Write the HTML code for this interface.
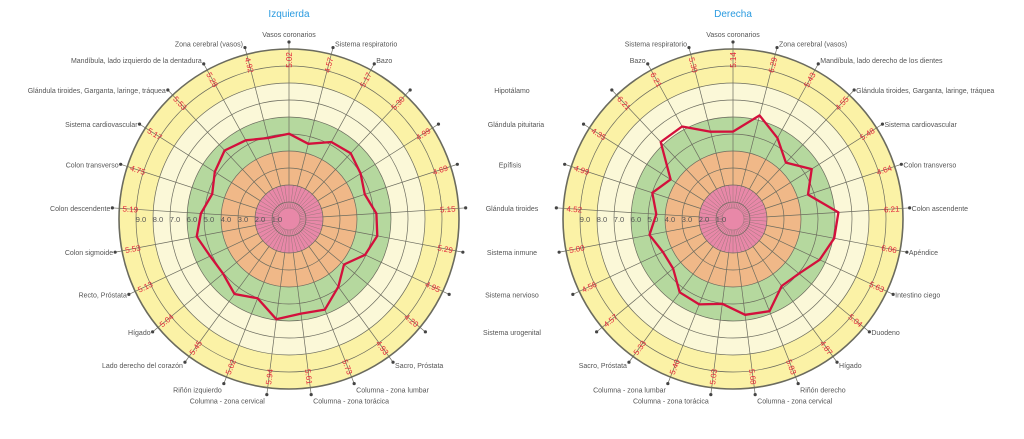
<!DOCTYPE html>
<html><head><meta charset="utf-8"><style>
html,body{margin:0;padding:0;background:#fff;width:1024px;height:439px;overflow:hidden}
svg{display:block}
</style></head><body>
<svg id="s" width="1024" height="439" xmlns="http://www.w3.org/2000/svg" font-family="Liberation Sans, sans-serif">
<text x="289" y="17" text-anchor="middle" font-size="10" fill="#2b9be0">Izquierda</text>
<text x="733" y="17" text-anchor="middle" font-size="10" fill="#2b9be0">Derecha</text>
</svg>
<script>
var S=document.getElementById('s'),NS='http://www.w3.org/2000/svg';
function el(t,a,txt){var e=document.createElementNS(NS,t);for(var k in a)e.setAttribute(k,a[k]);if(txt!=null)e.textContent=txt;S.appendChild(e);return e;}
var U=17;
function chart(cx,cy,vals,labels,special){
  var cols=['#fbf2a6','#fbf8d8','#b5d89e','#f0b888','#e888a8'];
  var rs=[170,136,102,68,34];
  for(var i=0;i<5;i++)el('circle',{cx:cx,cy:cy,r:rs[i],fill:cols[i]});
  var n=25,i,a,r;
  for(i=1;i<=10;i++)el('circle',{cx:cx,cy:cy,r:i*U,fill:'none',stroke:'#6b6b5e','stroke-width':i==10?1.6:0.7});
  el('circle',{cx:cx,cy:cy,r:11,fill:'none',stroke:'#6b6b5e','stroke-width':0.5,'stroke-opacity':0.6});
  for(i=0;i<n;i++){a=i*2*Math.PI/n;
    el('line',{x1:cx+34*Math.sin(a),y1:cy-34*Math.cos(a),x2:cx+178*Math.sin(a),y2:cy-178*Math.cos(a),stroke:'#6b6b5e','stroke-width':0.7});
    el('line',{x1:cx+11*Math.sin(a),y1:cy-11*Math.cos(a),x2:cx+34*Math.sin(a),y2:cy-34*Math.cos(a),stroke:'#6b6b5e','stroke-width':0.5,'stroke-opacity':0.6});
    var b=a+Math.PI/n;
    el('line',{x1:cx+11*Math.sin(b),y1:cy-11*Math.cos(b),x2:cx+34*Math.sin(b),y2:cy-34*Math.cos(b),stroke:'#6b6b5e','stroke-width':0.5,'stroke-opacity':0.6});
  }
  for(i=1;i<=9;i++)el('text',{x:cx-(i*U-5),y:cy+3,'text-anchor':'middle','font-size':7.5,fill:'#555'},i+'.0');
  var pts=[];
  for(i=0;i<n;i++){a=i*2*Math.PI/n;r=vals[i]*U;pts.push((cx+r*Math.sin(a)).toFixed(1)+','+(cy-r*Math.cos(a)).toFixed(1));}
  el('polygon',{points:pts.join(' '),fill:'none',stroke:'#d3103c','stroke-width':2.3,'stroke-linejoin':'round'});
  for(i=0;i<n;i++){var d=i*360/n;a=d*Math.PI/180;
    var x=cx+159*Math.sin(a),y=cy-159*Math.cos(a);
    var rot=(d<180)?d-90:d+90;
    el('text',{x:x,y:y+3,'text-anchor':'middle','font-size':8,fill:'#e2283c',transform:'rotate('+rot+' '+x.toFixed(1)+' '+y.toFixed(1)+')'},vals[i].toFixed(2));
    var dx=cx+177*Math.sin(a),dy=cy-177*Math.cos(a);
    el('circle',{cx:dx,cy:dy,r:1.6,fill:'#444'});
    var L=labels[i];if(!L)continue;
    if(special&&special[i]){el('text',{x:special[i],y:dy+3,'text-anchor':'middle','font-size':7,fill:'#555'},L);continue;}
    var anc,tx,ty;
    if(i==0){anc='middle';tx=dx;ty=dy-5;}
    else if(d<180){anc='start';tx=dx+2;ty=dy+3;}
    else{anc='end';tx=dx-2;ty=dy+3;}
    if(d>150&&d<210)ty=dy+9;else if(d>140&&d<220)ty=dy+6;
    if(d>330||(d>0&&d<30))ty=dy-1;
    el('text',{x:tx,y:ty,'text-anchor':anc,'font-size':7,fill:'#555'},L);
  }
}
chart(289,219,[5.02,4.57,5.17,5.30,4.99,4.69,5.15,5.29,4.95,4.20,4.93,5.73,5.61,5.94,5.02,5.45,5.04,5.13,5.53,5.19,4.75,5.17,5.53,5.28,4.92],
 ['Vasos coronarios','Sistema respiratorio','Bazo','','','','','','','','Sacro, Próstata','Columna - zona lumbar','Columna - zona torácica','Columna - zona cervical','Riñón izquierdo','Lado derecho del corazón','Hígado','Recto, Próstata','Colon sigmoide','Colon descendente','Colon transverso','Sistema cardiovascular','Glándula tiroides, Garganta, laringe, tráquea','Mandíbula, lado izquierdo de la dentadura','Zona cerebral (vasos)']);
chart(733,219,[5.14,6.29,5.43,4.55,5.48,4.64,6.21,6.06,5.63,5.04,4.87,5.83,5.68,5.03,5.40,5.33,4.57,4.56,5.00,4.52,4.99,4.35,6.21,6.21,5.30],
 ['Vasos coronarios','Zona cerebral (vasos)','Mandíbula, lado derecho de los dientes','Glándula tiroides, Garganta, laringe, tráquea','Sistema cardiovascular','Colon transverso','Colon ascendente','Apéndice','Intestino ciego','Duodeno','Hígado','Riñón derecho','Columna - zona cervical','Columna - zona torácica','Columna - zona lumbar','Sacro, Próstata','Sistema urogenital','Sistema nervioso','Sistema inmune','Glándula tiroides','Epífisis','Glándula pituitaria','Hipotálamo','Bazo','Sistema respiratorio'],
 {16:512,17:512,18:512,19:512,20:510,21:516,22:512});
</script>
</body></html>
